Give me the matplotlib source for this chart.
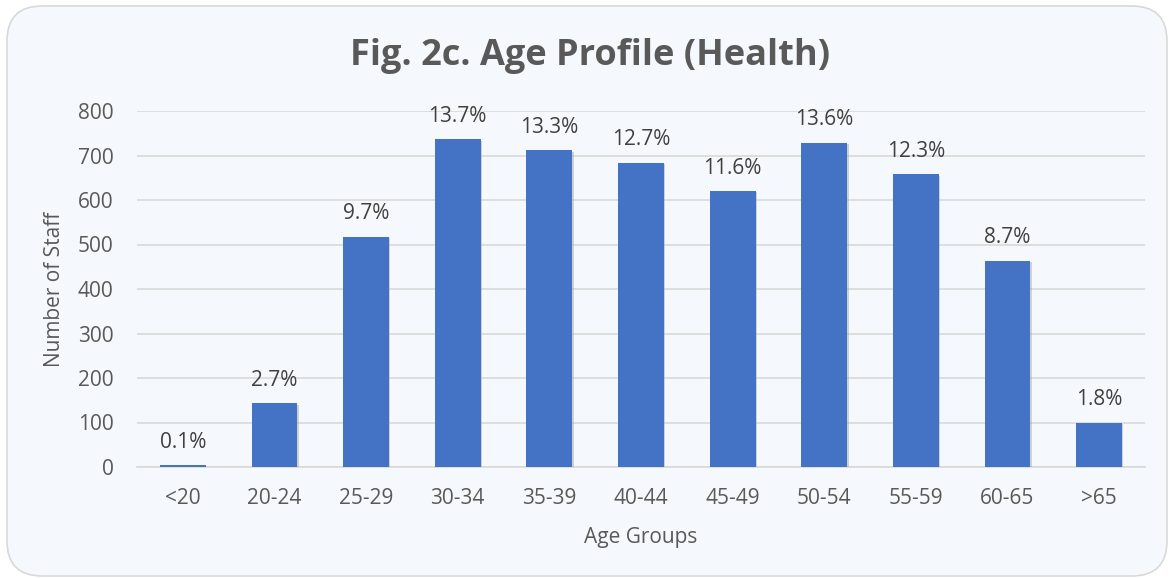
import matplotlib.pyplot as plt
from matplotlib.patches import FancyBboxPatch
import matplotlib.patheffects as pe

plt.rcParams['font.family'] = ['Open Sans', 'DejaVu Sans']

# data
ageGroups = ['<20', '20-24', '25-29', '30-34', '35-39', '40-44', '45-49', '50-54', '55-59', '60-65', '>65']
staffCounts = [4, 143, 517, 736, 712, 684, 620, 729, 658, 464, 100]
percentLabels = ['0.1%', '2.7%', '9.7%', '13.7%', '13.3%', '12.7%', '11.6%', '13.6%', '12.3%', '8.7%', '1.8%']

textColor = '#595959'
bgColor = '#F5F8FC'

fig = plt.figure(figsize=(11.7, 5.78), dpi=100)
fig.patch.set_facecolor('white')

# rounded chart frame, kept behind the axes
frame = FancyBboxPatch((7 / 1170, 2 / 578), 1160 / 1170, 570 / 578,
                       boxstyle='round,pad=0,rounding_size=0.03',
                       transform=fig.transFigure, facecolor=bgColor,
                       edgecolor='#D9D9D9', linewidth=1.2, mutation_aspect=1170 / 578,
                       zorder=-10)
fig.patches.append(frame)

ax = fig.add_axes([137 / 1170, 1 - 467 / 578, (1145 - 137) / 1170, (467 - 111) / 578])
ax.set_zorder(5)
ax.patch.set_alpha(0)

x = list(range(len(ageGroups)))
bars = ax.bar(x, staffCounts, width=0.5, color='#4472C4', zorder=3,
              path_effects=[pe.SimplePatchShadow(offset=(1, -1), shadow_rgbFace='#A0A0A0', alpha=0.45), pe.Normal()])

for xi, val, lab in zip(x, staffCounts, percentLabels):
    ax.annotate(lab, (xi, val), xytext=(0, 9), textcoords='offset points',
                ha='center', va='bottom', fontsize=15, color='#404040')

ax.set_xlim(-0.5, len(ageGroups) - 0.5)
ax.set_ylim(0, 800)
ax.set_yticks(range(0, 801, 100))
ax.set_xticks(x)
ax.set_xticklabels(ageGroups)
ax.yaxis.grid(True, color='#D9D9D9', linewidth=1.2, zorder=0)
ax.set_axisbelow(True)
for side in ['top', 'right', 'left']:
    ax.spines[side].set_visible(False)
ax.spines['bottom'].set_color('#D9D9D9')
ax.spines['bottom'].set_linewidth(1.2)
ax.tick_params(axis='both', length=0, labelsize=15, colors=textColor)
ax.tick_params(axis='x', pad=15)
ax.tick_params(axis='y', pad=17)

ax.set_xlabel('Age Groups', fontsize=15, color=textColor, labelpad=13)
ax.set_ylabel('Number of Staff', fontsize=15, color=textColor, labelpad=9)

fig.text(0.504, 1 - 56 / 578, 'Fig. 2c. Age Profile (Health)', ha='center', va='center',
         fontsize=26, fontweight='bold', color=textColor)

plt.savefig('out.png', dpi=100, facecolor=fig.get_facecolor())
